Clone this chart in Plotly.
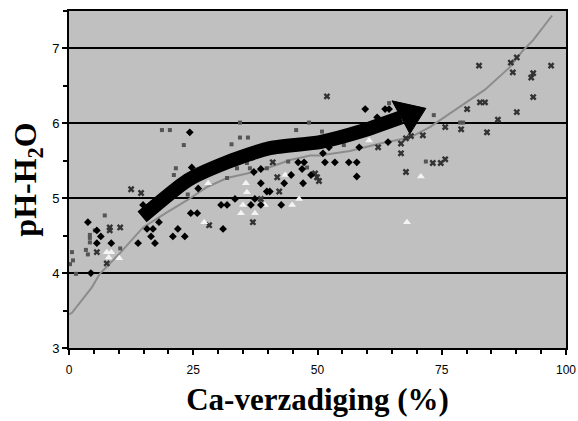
import plotly.graph_objects as go

# Black diamonds
dia_x = [24.3, 24.7, 38.6, 37.2, 38.6, 39.8, 40.4, 33.4, 37.4, 36.6, 38.6, 42.7, 30.6, 31.8,
         44.7, 43.3, 47.1, 46.1, 47.3, 46.9, 48.7, 26.0, 14.9, 18.1, 24.5, 25.8, 15.7, 16.9,
         21.9, 16.5, 20.9, 23.3, 31.0, 13.9, 17.3, 8.5, 5.6, 6.4, 3.8, 4.4, 59.6, 62.0, 63.6,
         64.4, 64.2, 58.4, 52.3, 51.1, 51.5, 53.5, 56.3, 57.9, 57.9, 5.6]
dia_y = [5.88, 5.41, 5.39, 5.35, 5.20, 5.09, 5.09, 4.99, 4.99, 4.91, 4.91, 4.91, 4.91, 4.91,
         5.31, 5.20, 5.20, 5.48, 5.48, 5.39, 5.31, 5.13, 4.91, 4.68, 4.80, 4.80, 4.59, 4.59,
         4.59, 4.49, 4.49, 4.49, 4.59, 4.40, 4.40, 4.40, 4.40, 4.49, 4.68, 4.00, 6.19, 6.08, 6.19,
         6.19, 5.75, 5.68, 5.68, 5.60, 5.48, 5.48, 5.48, 5.48, 5.29, 4.57]

# Grey squares
sq_x = [18.7, 20.3, 34.4, 48.3, 45.7, 36.0, 34.4, 23.1, 21.5, 21.1, 23.9, 35.8, 44.1, 33.8,
        36.4, 39.8, 31.8, 7.2, 4.2, 4.2, 4.2, 5.2, 3.4, 3.8, 0.6, 0.8, 0.2, 1.4, 10.3, 50.9,
        55.3, 71.8, 73.4, 46.9, 47.9, 78.7, 79.3, 64.4, 32.7]
sq_y = [5.91, 5.91, 6.01, 6.01, 5.91, 5.81, 5.81, 5.71, 5.40, 5.31, 5.05, 5.47, 5.49, 5.40,
        5.40, 5.40, 5.27, 4.77, 4.51, 4.47, 4.41, 4.57, 4.31, 4.25, 4.28, 4.17, 4.12, 3.99, 4.33,
        5.89, 5.71, 5.49, 6.11, 5.39, 5.41, 6.01, 6.01, 6.27, 5.72]

# Crosses
x_x = [12.5, 14.5, 41.0, 41.9, 42.3, 38.6, 37.0, 28.2, 8.2, 10.3, 8.2, 5.6, 7.6, 49.5, 49.9,
       50.3, 62.2, 66.8, 66.8, 67.8, 68.8, 71.2, 67.8, 73.2, 74.8, 75.7, 75.7, 78.9, 80.1, 84.1,
       86.3, 90.1, 82.7, 83.7, 51.9, 82.5, 88.9, 90.1, 89.3, 93.4, 93.0, 97.0, 93.4]
x_y = [5.12, 5.07, 5.48, 5.28, 5.09, 4.99, 4.68, 4.64, 4.61, 4.61, 4.57, 4.28, 4.13, 5.33, 5.28,
       5.23, 5.68, 5.73, 5.60, 5.80, 5.83, 5.84, 5.35, 5.47, 5.47, 5.52, 5.95, 5.92, 6.19, 5.88,
       6.05, 6.15, 6.28, 6.28, 6.36, 6.77, 6.81, 6.88, 6.68, 6.67, 6.61, 6.77, 6.35]

# White triangles
tri_x = [28.0, 35.6, 35.8, 43.5, 35.0, 39.4, 34.6, 37.4, 44.9, 46.3, 27.2, 7.6, 8.5, 8.0,
         10.1, 56.3, 60.4, 70.8, 68.0]
tri_y = [5.20, 5.20, 5.08, 5.31, 4.91, 4.91, 4.80, 4.80, 4.91, 4.99, 4.68, 4.28, 4.28, 4.21,
         4.20, 5.88, 5.77, 5.29, 4.68]

# Grey trend curve
curve_x = [0.0, 0.6, 4.6, 6.2, 10.3, 14.9, 19.7, 23.7, 27.8, 31.8, 35.8, 39.8, 44.5, 48.5,
           50.5, 56.5, 62.6, 68.6, 72.6, 75.3, 79.3, 83.7, 88.7, 91.3, 93.4, 97.2]
curve_y = [3.45, 3.47, 3.81, 3.99, 4.27, 4.61, 4.81, 4.97, 5.15, 5.27, 5.33, 5.40, 5.51, 5.57,
           5.57, 5.63, 5.73, 5.81, 5.95, 6.07, 6.25, 6.45, 6.75, 6.97, 7.11, 7.44]

# Thick arrow: shaft and head
shaft_x = [14.7, 23.9, 31.8, 40.4, 50.5, 58.6, 66.8]
shaft_y = [4.75, 5.24, 5.48, 5.67, 5.75, 5.89, 6.08]
head_x = [65.0, 71.8, 68.6, 65.0]
head_y = [6.30, 6.20, 5.86, 6.30]

x_ticks = [0, 25, 50, 75, 100]
y_ticks = [3, 4, 5, 6, 7]

fig = go.Figure()

fig.add_trace(go.Scatter(x=curve_x, y=curve_y, mode="lines",
                         line=dict(color="#8c8c8c", width=2), hoverinfo="skip"))
fig.add_trace(go.Scatter(x=sq_x, y=sq_y, mode="markers",
                         marker=dict(symbol="square", size=4, color="#555555")))
fig.add_trace(go.Scatter(x=x_x, y=x_y, mode="markers",
                         marker=dict(symbol="x", size=6, color="#333333",
                                     line=dict(width=0))))
fig.add_trace(go.Scatter(x=tri_x, y=tri_y, mode="markers",
                         marker=dict(symbol="triangle-up", size=7, color="#f4f4f4",
                                     line=dict(width=0))))
fig.add_trace(go.Scatter(x=dia_x, y=dia_y, mode="markers",
                         marker=dict(symbol="diamond", size=6, color="#000000",
                                     line=dict(width=0))))
fig.add_trace(go.Scatter(x=shaft_x, y=shaft_y, mode="lines",
                         line=dict(color="#000000", width=14, shape="spline", smoothing=0.6),
                         hoverinfo="skip"))
fig.add_trace(go.Scatter(x=head_x, y=head_y, mode="lines", fill="toself",
                         fillcolor="#000000", line=dict(color="#000000", width=1),
                         hoverinfo="skip"))

tick_font = dict(family="Liberation Sans, Arial, sans-serif", size=12, color="#000000")
serif = "Liberation Serif, Times New Roman, serif"

fig.update_layout(
    width=578, height=421,
    margin=dict(l=69, r=12, t=11, b=73),
    paper_bgcolor="#ffffff",
    plot_bgcolor="#c0c0c0",
    showlegend=False,
    xaxis=dict(
        range=[0, 100], tickvals=x_ticks, showgrid=False, zeroline=False, automargin=False,
        showline=True, linecolor="#000000", linewidth=2, mirror=True,
        ticks="outside", ticklen=5, tickwidth=1.5, tickcolor="#000000",
        minor=dict(dtick=5, ticks="outside", ticklen=4, tickwidth=1.5, tickcolor="#000000"),
        tickfont=tick_font, ticklabelstandoff=5,
        title=dict(text="<b>Ca-verzadiging (%)</b>",
                   font=dict(family=serif, size=31, color="#000000"), standoff=12),
    ),
    yaxis=dict(
        range=[3, 7.5], tickvals=y_ticks, showgrid=True, gridcolor="#000000", gridwidth=2,
        zeroline=False, automargin=False,
        showline=True, linecolor="#000000", linewidth=2, mirror=True,
        ticks="outside", ticklen=5, tickwidth=1.5, tickcolor="#000000",
        minor=dict(dtick=0.5, ticks="outside", ticklen=4, tickwidth=1.5, tickcolor="#000000",
                   showgrid=False),
        tickfont=dict(family="Liberation Sans, Arial, sans-serif", size=13, color="#000000"),
        title=dict(text="<b>pH-H<sub>2</sub>O</b>",
                   font=dict(family=serif, size=32, color="#000000"), standoff=6),
    ),
)

fig.write_html("out.html")
